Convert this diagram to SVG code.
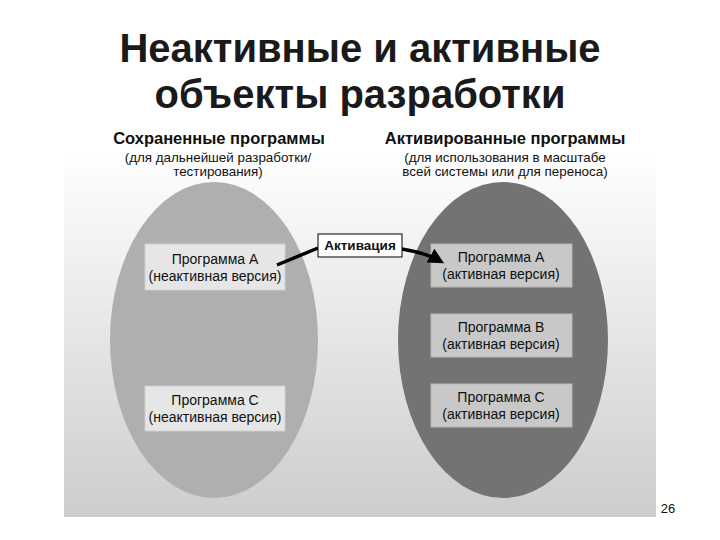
<svg xmlns="http://www.w3.org/2000/svg" width="720" height="540" viewBox="0 0 720 540">
<defs>
<linearGradient id="bg" x1="0" y1="0" x2="0" y2="1">
<stop offset="0" stop-color="#ffffff"/>
<stop offset="1" stop-color="#cdcdcd"/>
</linearGradient>
<marker id="ah" viewBox="0 0 10 10" refX="7" refY="5" markerWidth="4.5" markerHeight="4.5" orient="auto" markerUnits="strokeWidth">
<path d="M0,0 L10,5 L0,10 z" fill="#000"/>
</marker>
<style>
text{font-family:"Liberation Sans",Arial,sans-serif;fill:#111;text-anchor:middle}
.title{font-size:40px;font-weight:bold;fill:#1a1a1a}
.head{font-size:16.5px;font-weight:bold}
.sub{font-size:13.4px}
.bt{font-size:14px}
.lbox{fill:#e6e6e6;stroke:#d0d0d0;stroke-width:1}
.rbox{fill:#c8c8c8;stroke:#b8b8b8;stroke-width:1}
.conn{fill:none;stroke:#000;stroke-width:3.5}
</style>
</defs>
<rect width="720" height="540" fill="#fff"/>
<g id="title">
<text class="title" x="360" y="62">Неактивные и активные</text>
<text class="title" x="360" y="108">объекты разработки</text>
</g>
<rect x="64" y="150" width="592" height="367" fill="url(#bg)"/>
<g id="saved">
<text class="head" x="219" y="144">Сохраненные программы</text>
<text class="sub" x="218" y="162">(для дальнейшей разработки/</text>
<text class="sub" x="218" y="176">тестирования)</text>
<ellipse cx="214" cy="340" rx="104" ry="158" fill="#afafaf"/>
</g>
<g id="active">
<text class="head" x="505" y="144">Активированные программы</text>
<text class="sub" x="505" y="162">(для использования в масштабе</text>
<text class="sub" x="505" y="176">всей системы или для переноса)</text>
<ellipse cx="503" cy="340" rx="105" ry="158" fill="#737373"/>
</g>
<g id="left-a">
<rect class="lbox" x="145" y="244" width="140" height="46"/>
<text class="bt" x="215" y="264">Программа A</text>
<text class="bt" x="215" y="281">(неактивная версия)</text>
</g>
<g id="left-c">
<rect class="lbox" x="145" y="386" width="140" height="45"/>
<text class="bt" x="215" y="405">Программа C</text>
<text class="bt" x="215" y="422">(неактивная версия)</text>
</g>
<g id="right-a">
<rect class="rbox" x="431" y="244" width="141" height="43"/>
<text class="bt" x="501" y="262">Программа A</text>
<text class="bt" x="501" y="279">(активная версия)</text>
</g>
<g id="right-b">
<rect class="rbox" x="431" y="314" width="141" height="43"/>
<text class="bt" x="501" y="332">Программа B</text>
<text class="bt" x="501" y="349">(активная версия)</text>
</g>
<g id="right-c">
<rect class="rbox" x="431" y="384" width="141" height="43"/>
<text class="bt" x="501" y="402">Программа C</text>
<text class="bt" x="501" y="419">(активная версия)</text>
</g>
<g id="connectors">
<path class="conn" d="M277,265 L318,248"/>
<path class="conn" d="M402,249 Q426,253 440,261" marker-end="url(#ah)"/>
</g>
<g id="activation">
<rect x="318" y="234" width="84" height="23" fill="#fff" stroke="#000" stroke-width="1"/>
<text x="360" y="250" style="font-size:13.5px;font-weight:bold">Активация</text>
</g>
<text x="668" y="513" style="font-size:13px">26</text>
</svg>
